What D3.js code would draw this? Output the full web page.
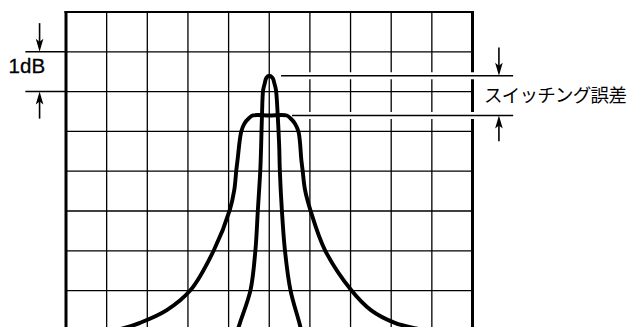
<!DOCTYPE html>
<html>
<head>
<meta charset="utf-8">
<script src="https://cdn.jsdelivr.net/npm/d3@7"></script>
<style>
  html, body { margin: 0; padding: 0; background: #fff; overflow: hidden; }
  svg { display: block; }
</style>
</head>
<body>
<svg id="chart" width="631" height="327"></svg>
<script>
// Horizontal: frequency offset in graticule divisions from the centre.
// Vertical: level in dB relative to the top graticule line (1 dB / division).
const xDivisions = d3.range(-5, 6);
const yDivisions = d3.range(0, -9, -1);

// Narrow response (single filter, sharp peak)
const narrowOffset = [-0.81, -0.72, -0.46, -0.34, -0.28, -0.22, -0.20, -0.18, -0.15, -0.11, -0.075, 0.0,
                      0.085, 0.125, 0.165, 0.21, 0.245, 0.26, 0.31, 0.385, 0.52, 0.74, 0.81];
const narrowLevel  = [-8.1, -7.81, -6.98, -5.98, -4.97, -3.97, -3.38, -2.63, -1.96, -1.79, -1.66, -1.6,
                      -1.66, -1.79, -1.96, -2.63, -3.38, -3.97, -4.97, -5.98, -6.98, -7.81, -8.1];

// Wide response (flat-top, switched)
const wideOffset = [-4.1, -3.6, -3.18, -2.52, -1.93, -1.36, -0.97, -0.86, -0.81, -0.78, -0.69, -0.61, -0.50, -0.40,
                    0.0, 0.43, 0.52, 0.63, 0.72, 0.79, 0.82, 0.88, 1.01, 1.37, 2.01, 2.50, 3.09, 3.61, 4.1];
const wideLevel  = [-8.04, -7.95, -7.81, -7.49, -6.98, -5.98, -4.97, -4.47, -3.97, -3.72, -3.01, -2.80, -2.67, -2.60,
                    -2.60, -2.60, -2.67, -2.80, -3.01, -3.72, -3.97, -4.47, -4.97, -5.98, -6.98, -7.49, -7.81, -7.95, -8.04];

const peakLevel = -1.6;     // top of the narrow response
const plateauLevel = -2.6;  // flat top of the wide response
const dbLabel = "1dB";
const errorLabel = "スイッチング誤差";

const svg = d3.select("#chart");
const x = d3.scaleLinear().domain([-5, 5]).range([66, 472.5]);
const y = d3.scaleLinear().domain([0, -8]).range([12, 330.4]);

// Graticule
const grid = svg.append("g").attr("stroke", "#000").attr("fill", "none");
grid.selectAll("line.v").data(xDivisions.slice(1, -1)).join("line")
  .attr("class", "v")
  .attr("x1", d => x(d)).attr("x2", d => x(d))
  .attr("y1", y(0)).attr("y2", y(-8))
  .attr("stroke-width", 1.3);
grid.selectAll("line.h").data(yDivisions.slice(1)).join("line")
  .attr("class", "h")
  .attr("x1", x(-5)).attr("x2", x(5))
  .attr("y1", d => y(d)).attr("y2", d => y(d))
  .attr("stroke-width", 1.3);

// Frame
grid.append("line").attr("x1", x(-5)).attr("x2", x(-5)).attr("y1", y(0) - 1).attr("y2", y(-8)).attr("stroke-width", 3);
grid.append("line").attr("x1", x(5)).attr("x2", x(5)).attr("y1", y(0) - 1).attr("y2", y(-8)).attr("stroke-width", 3);
grid.append("line").attr("x1", x(-5) - 1.5).attr("x2", x(5) + 1.5).attr("y1", y(0)).attr("y2", y(0)).attr("stroke-width", 2);

// Arrow: shaft ending in a slim filled head whose tip sits on yTip
function arrow(g, px, yFrom, yTip) {
  const dir = yTip > yFrom ? 1 : -1;
  g.append("line")
    .attr("x1", px).attr("x2", px)
    .attr("y1", yFrom).attr("y2", yTip - dir * 8)
    .attr("stroke", "#000").attr("stroke-width", 1.6);
  g.append("path")
    .attr("d", `M${px},${yTip} L${px - 3.8},${yTip - dir * 13} L${px},${yTip - dir * 10} L${px + 3.8},${yTip - dir * 13} Z`)
    .attr("fill", "#000");
}

// 1 dB reference on the left
const left = svg.append("g");
[-1, -2].forEach(d => {
  left.append("line")
    .attr("x1", x(-6)).attr("x2", x(-5))
    .attr("y1", y(d)).attr("y2", y(d))
    .attr("stroke", "#000").attr("stroke-width", 1.5);
});
arrow(left, x(-5.65), y(-0.28), y(-1));
arrow(left, x(-5.65), y(-2.68), y(-2));
left.append("text")
  .attr("x", x(-6) + 1.5).attr("y", y(-1.54))
  .attr("text-anchor", "middle")
  .attr("font-family", "'Liberation Sans', Arial, sans-serif")
  .attr("font-size", 20.5)
  .attr("stroke", "#000").attr("stroke-width", 0.3)
  .text(dbLabel);

// Switching-error markers on the right
const right = svg.append("g");
[[peakLevel, 0.29], [plateauLevel, 0.56]].forEach(([lv, from]) => {
  right.append("line")
    .attr("x1", x(from)).attr("x2", x(6))
    .attr("y1", y(lv)).attr("y2", y(lv))
    .attr("stroke", "#fff").attr("stroke-width", 7);
  right.append("line")
    .attr("x1", x(from)).attr("x2", x(6))
    .attr("y1", y(lv)).attr("y2", y(lv))
    .attr("stroke", "#000").attr("stroke-width", 1.5);
});
arrow(right, x(5.65), y(peakLevel + 0.71), y(peakLevel));
arrow(right, x(5.65), y(plateauLevel - 0.65), y(plateauLevel));
right.append("text")
  .attr("x", x(5.65) - 15).attr("y", y((peakLevel + plateauLevel) / 2) + 6)
  .attr("font-family", "'Noto Sans CJK JP', sans-serif")
  .attr("font-size", 18.5)
  .attr("textLength", 143)
  .text(errorLabel);

// Responses
const line = d3.line()
  .x(d => x(d[0]))
  .y(d => y(d[1]))
  .curve(d3.curveCatmullRom.alpha(0.5));

const curves = svg.append("g")
  .attr("fill", "none").attr("stroke", "#000")
  .attr("stroke-width", 3.9)
  .attr("stroke-linejoin", "round").attr("stroke-linecap", "round");
curves.append("path").attr("d", line(d3.zip(wideOffset, wideLevel)));
curves.append("path").attr("d", line(d3.zip(narrowOffset, narrowLevel)));
</script>
</body>
</html>
